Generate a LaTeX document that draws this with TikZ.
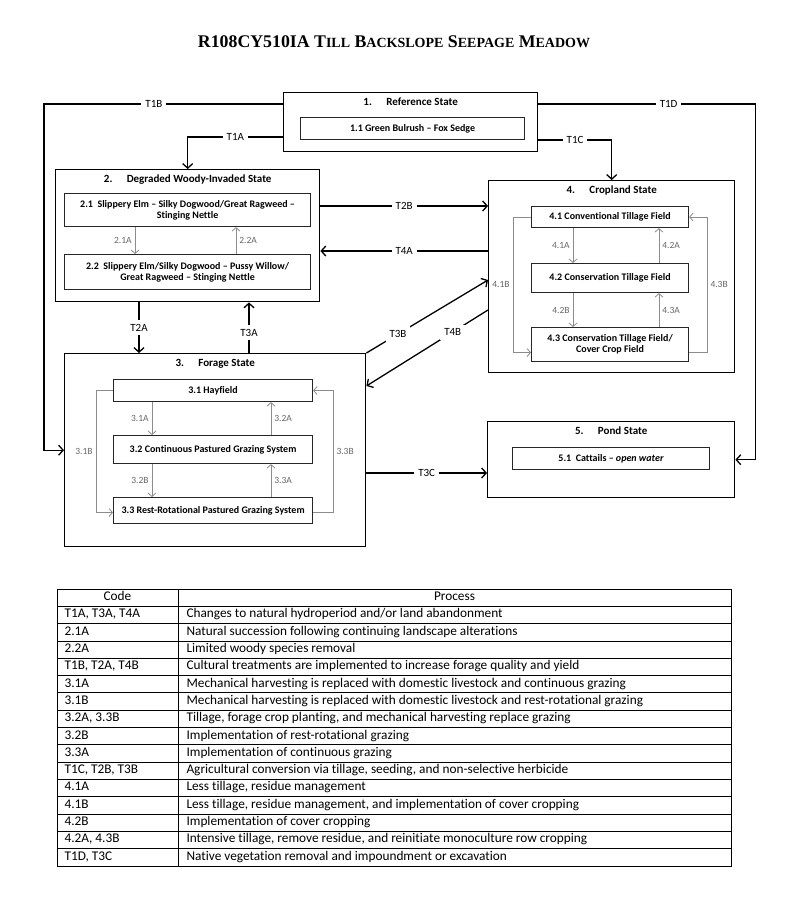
\documentclass[tikz,border=0pt]{standalone}
\usepackage{fontspec}
\setmainfont{Carlito}[Ligatures=NoCommon]
\newfontfamily\titlefont{Liberation Serif}
\usetikzlibrary{positioning,arrows.meta}
\newcommand{\fakesc}[1]{{\fontsize{14}{16}\selectfont #1}}

\begin{document}
\begin{tikzpicture}[x=1pt,y=-1pt,
  state/.style={draw,line width=1.4pt,inner sep=0pt,anchor=north west},
  comm/.style={draw,line width=1.1pt,black!85,text=black,inner sep=0pt,anchor=north west,
    align=center,font=\bfseries\fontsize{10}{11}\selectfont},
  stitle/.style={font=\bfseries\fontsize{11}{13}\selectfont,inner sep=1pt},
  trans/.style={line width=1.3pt,-{Straight Barb[length=4.5pt,width=10pt]}},
  tlab/.style={fill=white,inner sep=4pt,font=\fontsize{11}{13}\selectfont},
  inner/.style={black!45,line width=0.8pt,-{Straight Barb[length=3.5pt,width=8pt]}},
  ilab/.style={text=black!60,font=\fontsize{9.5}{11}\selectfont,inner sep=3pt}]
\useasboundingbox (0,0) rectangle (800,899);

\node[font=\titlefont\bfseries\fontsize{17.8}{20}\selectfont] (title) at (394,42)
  {R108CY510IA T\fakesc{ILL} B\fakesc{ACKSLOPE} S\fakesc{EEPAGE} M\fakesc{EADOW}};

% states
\node[state,minimum width=254pt,minimum height=59pt] (s1) at (283,92) {};
\node[state,minimum width=264pt,minimum height=132pt] (s2) at (55,169) {};
\node[state,minimum width=301pt,minimum height=193pt] (s3) at (64,353) {};
\node[state,minimum width=246pt,minimum height=192pt] (s4) at (488,180) {};
\node[state,minimum width=247pt,minimum height=76pt] (s5) at (487,421) {};

\node[stitle,below=5pt of s1.north] (s1t) {1.\hspace{1.3em}Reference State};
\node[stitle,below=5pt of s2.north] (s2t) {2.\hspace{1.3em}Degraded Woody-Invaded State};
\node[stitle,below=5pt of s3.north] (s3t) {3.\hspace{1.3em}Forage State};
\node[stitle,below=5pt of s4.north] (s4t) {4.\hspace{1.3em}Cropland State};
\node[stitle,below=5pt of s5.north] (s5t) {5.\hspace{1.3em}Pond State};

% communities
\node[comm,minimum width=224pt,minimum height=22pt] (c11) at (300,117) {1.1 Green Bulrush -- Fox Sedge};
\node[comm,minimum width=246pt,minimum height=33pt] (c21) at (64,193)
  {2.1\ \ Slippery Elm -- Silky Dogwood/Great Ragweed --\\Stinging Nettle};
\node[comm,minimum width=246pt,minimum height=35pt] (c22) at (64,254)
  {2.2\ \ Slippery Elm/Silky Dogwood -- Pussy Willow/\\Great Ragweed -- Stinging Nettle};
\node[comm,minimum width=199pt,minimum height=22pt] (c31) at (113,379) {3.1 Hayfield};
\node[comm,minimum width=199pt,minimum height=28pt] (c32) at (113,435) {3.2 Continuous Pastured Grazing System};
\node[comm,minimum width=199pt,minimum height=26pt] (c33) at (113,497) {3.3 Rest-Rotational Pastured Grazing System};
\node[comm,minimum width=157pt,minimum height=21pt] (c41) at (531,206) {4.1 Conventional Tillage Field};
\node[comm,minimum width=157pt,minimum height=29pt] (c42) at (531,263) {4.2 Conservation Tillage Field};
\node[comm,minimum width=157pt,minimum height=34pt] (c43) at (531,327)
  {4.3 Conservation Tillage Field/\\Cover Crop Field};
\node[comm,minimum width=197pt,minimum height=22pt] (c51) at (512,447) {5.1\ \ Cattails -- \textit{open water}};

% community pathways
\draw[inner] ([xshift=71pt]c21.south west) -- node[ilab,left]{2.1A} ([xshift=71pt]c22.north west);
\draw[inner] ([xshift=172pt]c22.north west) -- node[ilab,right]{2.2A} ([xshift=172pt]c21.south west);
\draw[inner] ([xshift=39pt]c31.south west) -- node[ilab,left]{3.1A} ([xshift=39pt]c32.north west);
\draw[inner] ([xshift=158pt]c32.north west) -- node[ilab,right]{3.2A} ([xshift=158pt]c31.south west);
\draw[inner] ([xshift=39pt]c32.south west) -- node[ilab,left]{3.2B} ([xshift=39pt]c33.north west);
\draw[inner] ([xshift=158pt]c33.north west) -- node[ilab,right]{3.3A} ([xshift=158pt]c32.south west);
\draw[inner] (c31.west) -- ++(-17,0) |- node[ilab,left,pos=0.25]{3.1B} ([yshift=-2pt]c33.west);
\draw[inner] ([yshift=-2pt]c33.east) -- ++(20,0) |- node[ilab,right,pos=0.25]{3.3B} (c31.east);
\draw[inner] ([xshift=42pt]c41.south west) -- node[ilab,left]{4.1A} ([xshift=42pt]c42.north west);
\draw[inner] ([xshift=128pt]c42.north west) -- node[ilab,right]{4.2A} ([xshift=128pt]c41.south west);
\draw[inner] ([xshift=42pt]c42.south west) -- node[ilab,left]{4.2B} ([xshift=42pt]c43.north west);
\draw[inner] ([xshift=128pt]c43.north west) -- node[ilab,right]{4.3A} ([xshift=128pt]c42.south west);
\draw[inner] (c41.west) -- ++(-18,0) |- node[ilab,left,pos=0.25]{4.1B} ([yshift=-8pt]c43.west);
\draw[inner] ([yshift=-8pt]c43.east) -- ++(18,0) |- node[ilab,right,pos=0.25]{4.3B} (c41.east);

% transitions
\draw[trans] ([yshift=-12pt]s1.north west) -- node[tlab,pos=0.54]{T1B} ++(-239,0) |- (s3.west);
\draw[trans] ([yshift=-45pt]s1.north west) -| node[tlab,pos=0.25]{T1A} (s2.north);
\draw[trans] ([yshift=-12pt]s1.north east) -- node[tlab,pos=0.6]{T1D} ++(217,0) |- (s5.east);
\draw[trans] ([yshift=-48pt]s1.north east) -| node[tlab,pos=0.25]{T1C} (s4.north);
\draw[trans] ([yshift=-37pt]s2.north east) coordinate (t2b) -- node[tlab]{T2B} (t2b -| s4.west);
\draw[trans] ([yshift=-71pt]s4.north west) coordinate (t4a) -- node[tlab]{T4A} (t4a -| s2.east);
\draw[trans] ([xshift=84pt]s2.south west) coordinate (t2a) -- node[tlab]{T2A} (t2a |- s3.north);
\draw[trans] ([xshift=185pt]s3.north west) coordinate (t3a) -- node[tlab,pos=0.4]{T3A} (t3a |- s2.south);
\draw[trans] (s3.north east) -- node[tlab,pos=0.26]{T3B} ([yshift=-100pt]s4.north west);
\draw[trans] ([yshift=-130pt]s4.north west) -- node[tlab,pos=0.29]{T4B} ([yshift=-33pt]s3.north east);
\draw[trans] ([yshift=-120pt]s3.north east) coordinate (t3c) -- node[tlab]{T3C} (t3c -| s5.west);

% legend table
\begin{scope}[font=\fontsize{13.3}{15}\selectfont]
\draw[line width=1pt] (57,589) rectangle (731,866);
\draw[line width=1pt] (178,589) -- (178,866);
\node[text height=9pt,text depth=3pt] (hcode) at (117.5,597.65) {Code};
\node[text height=9pt,text depth=3pt] (hproc) at (454.5,597.65) {Process};
\foreach \code/\proc [count=\i] in {
  {T1A, T3A, T4A}/{Changes to natural hydroperiod and/or land abandonment},
  {2.1A}/{Natural succession following continuing landscape alterations},
  {2.2A}/{Limited woody species removal},
  {T1B, T2A, T4B}/{Cultural treatments are implemented to increase forage quality and yield},
  {3.1A}/{Mechanical harvesting is replaced with domestic livestock and continuous grazing},
  {3.1B}/{Mechanical harvesting is replaced with domestic livestock and rest-rotational grazing},
  {3.2A, 3.3B}/{Tillage, forage crop planting, and mechanical harvesting replace grazing},
  {3.2B}/{Implementation of rest-rotational grazing},
  {3.3A}/{Implementation of continuous grazing},
  {T1C, T2B, T3B}/{Agricultural conversion via tillage, seeding, and non-selective herbicide},
  {4.1A}/{Less tillage, residue management},
  {4.1B}/{Less tillage, residue management, and implementation of cover cropping},
  {4.2B}/{Implementation of cover cropping},
  {4.2A, 4.3B}/{Intensive tillage, remove residue, and reinitiate monoculture row cropping},
  {T1D, T3C}/{Native vegetation removal and impoundment or excavation}} {
  \draw[line width=0.8pt] (57,{589+17.3*\i}) -- (731,{589+17.3*\i});
  \node[anchor=west,text height=9pt,text depth=3pt] at (61,{597.65+17.3*\i}) {\code};
  \node[anchor=west,text height=9pt,text depth=3pt] at (183,{597.65+17.3*\i}) {\proc};
}
\end{scope}

\end{tikzpicture}
\end{document}
